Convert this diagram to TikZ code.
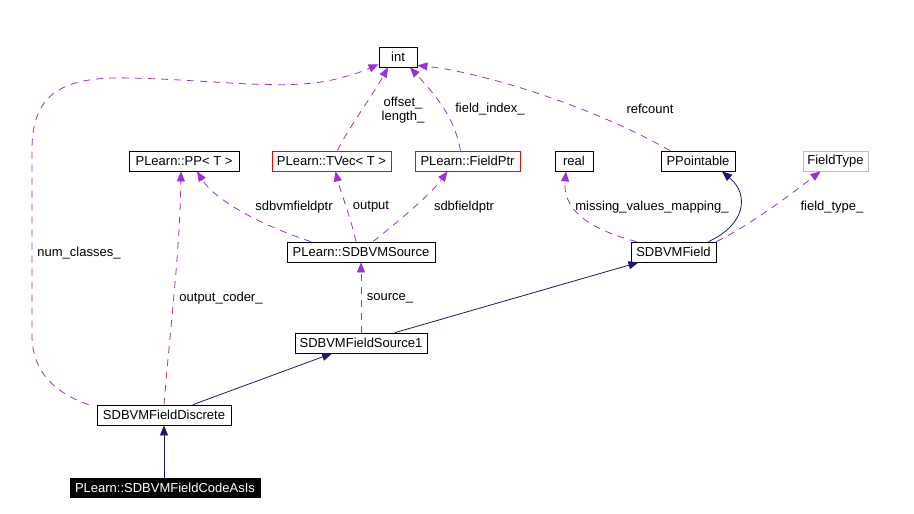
\documentclass[tikz,border=0pt]{standalone}
\usepackage{fontspec}
\setmainfont{Liberation Sans}
\usetikzlibrary{arrows.meta,calc}
\definecolor{usecol}{RGB}{154,50,205}
\definecolor{inhcol}{RGB}{25,25,112}
\tikzset{
    cls/.style={
    rectangle,draw=black,fill=white,inner sep=0pt,minimum height=20pt
    },
    tmpl/.style={
    cls,draw=red
    },
    undoc/.style={
    cls,draw=black!25
    },
    self/.style={
    cls,draw=black,fill=black,text=white,minimum height=19pt
    },
    usage/.style={
    draw=usecol,dash pattern=on 7pt off 6pt,-{Triangle[length=10pt,width=8pt]}
    },
    inherit/.style={
    draw=inhcol,-{Triangle[length=10pt,width=8pt]}
    },
    lbl/.style={
    inner sep=0pt
    },
}

\begin{document}
\begin{tikzpicture}[x=1pt, y=-1pt, line width=0.8pt, font=\fontsize{13}{14}\selectfont]
   \path[fill=white] (0,0) rectangle (914,514);
   \useasboundingbox (0,0) rectangle (914,514);

   \node[cls,minimum width=38pt] (int) at (398,57) {int};
   \node[cls,minimum width=110pt] (pp) at (184,161) {PLearn::PP< T >};
   \node[tmpl,minimum width=119pt] (tvec) at (331.5,161) {PLearn::TVec< T >};
   \node[tmpl,minimum width=105pt] (fptr) at (467.5,161) {PLearn::FieldPtr};
   \node[cls,minimum width=38pt] (real) at (574,161) {real};
   \node[cls,minimum width=74pt] (ppt) at (698,161) {PPointable};
   \node[undoc,minimum width=65pt] (ftype) at (835.5,161) {FieldType};
   \node[cls,minimum width=148pt] (src) at (361,252) {PLearn::SDBVMSource};
   \node[cls,minimum width=85pt] (field) at (673.5,252) {SDBVMField};
   \node[cls,minimum width=132pt] (src1) at (361,343) {SDBVMFieldSource1};
   \node[cls,minimum width=134pt] (disc) at (164,415) {SDBVMFieldDiscrete};
   \node[self,minimum width=190pt] (asis) at (165,487.5) {PLearn::SDBVMFieldCodeAsIs};

   % members
   \draw[usage] ([xshift=-8pt]disc.north west) .. controls (55,393) and (32,372) .. (32,335)
      -- (32,150) .. controls (32,95) and (60,76) .. (130,78)
      .. controls (220,80) and (290,92) .. (340,78)
      .. controls (360,73) and (370,68) .. ([yshift=3pt]int.south west);
   \draw[usage] ([xshift=6pt]tvec.north) .. controls (350,125) and (370,100) .. ([xshift=-10pt]int.south);
   \draw[usage] ([xshift=-7pt]fptr.north) .. controls (455,120) and (440,100) .. ([xshift=12pt]int.south);
   \draw[usage] ([xshift=-28pt]ppt.north) .. controls (590,105) and (480,72) .. ([yshift=2pt]int.south east);
   \draw[usage] ([xshift=-50pt]src.north) .. controls (260,225) and (215,200) .. ([xshift=13pt]pp.south);
   \draw[usage] ([xshift=-5pt]src.north) .. controls (350,215) and (340,190) .. ([xshift=4pt]tvec.south);
   \draw[usage] ([xshift=12pt]src.north) .. controls (400,220) and (430,195) .. ([xshift=-20pt]fptr.south);
   \draw[usage] (disc.north) .. controls (170,330) and (180,250) .. ([xshift=-3pt]pp.south);
   \draw[usage] (src1.north) -- (src.south);
   \draw[usage] ([xshift=6pt]field.north west) .. controls (600,232) and (562,215) .. ([xshift=-8pt]real.south);
   \draw[usage] (field.north east) .. controls (750,225) and (790,195) .. ([xshift=-15pt]ftype.south);

   % inheritance
   \draw[inherit] ([xshift=35pt]field.north) .. controls (745,225) and (750,195) .. ([xshift=24pt]ppt.south);
   \draw[inherit] ([xshift=34pt]src1.north) -- ([xshift=-35pt]field.south);
   \draw[inherit] ([xshift=29pt]disc.north) -- ([xshift=-29pt]src1.south);
   \draw[inherit] (asis.north -| disc.south) -- (disc.south);

   % labels
   \node[lbl,anchor=west] (lnum) at (37,253) {num\_classes\_};
   \node[lbl,align=center] (loff) at (403,110) {offset\_\\length\_};
   \node[lbl] (lfi) at (490,109) {field\_index\_};
   \node[lbl] (lref) at (650,109) {refcount};
   \node[lbl] (lsdbv) at (294,207) {sdbvmfieldptr};
   \node[lbl] (lout) at (371,207) {output};
   \node[lbl] (lsdbf) at (464,207) {sdbfieldptr};
   \node[lbl] (loc) at (221,298) {output\_coder\_};
   \node[lbl] (lsrc) at (390,298) {source\_};
   \node[lbl] (lmiss) at (652,207) {missing\_values\_mapping\_};
   \node[lbl] (lft) at (832,207) {field\_type\_};
\end{tikzpicture}
\end{document}
